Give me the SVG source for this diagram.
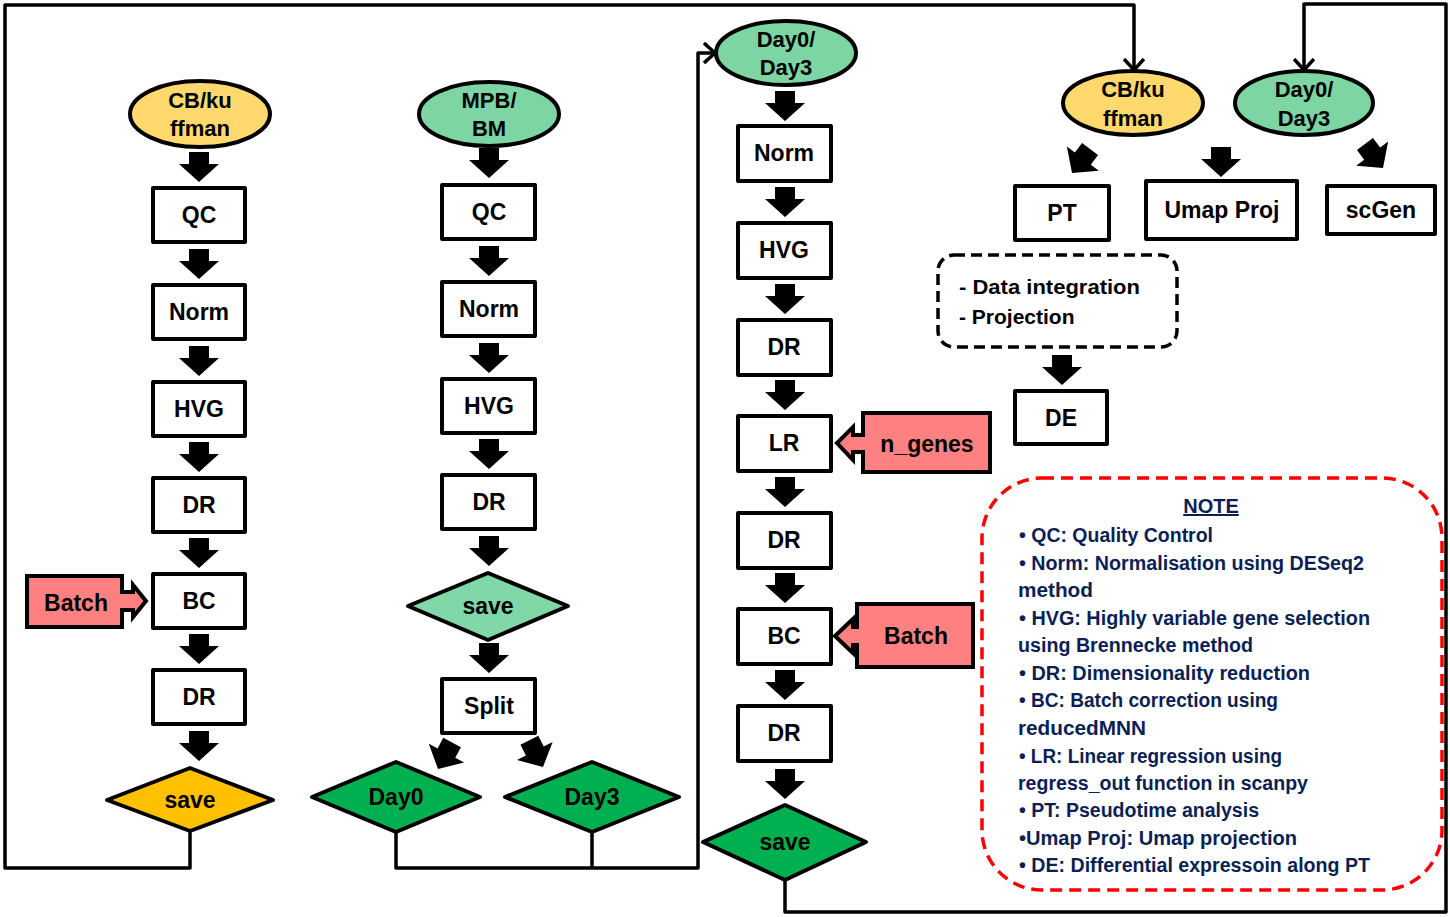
<svg xmlns="http://www.w3.org/2000/svg" xmlns:xlink="http://www.w3.org/1999/xlink" width="1450" height="917" viewBox="0 0 1450 917">
<style>
text{font-family:"Liberation Sans",Arial,sans-serif;font-weight:bold;fill:#000;}
.lbl{font-size:23px;text-anchor:middle;}
.ell{font-size:22px;text-anchor:middle;}
.box{fill:#fff;stroke:#000;stroke-width:4;stroke-linejoin:round;}
.yel{fill:#FFD96E;stroke:#000;stroke-width:4;}
.grn{fill:#7DD5A3;stroke:#000;stroke-width:4;}
.dgrn{fill:#00B050;stroke:#000;stroke-width:4;stroke-linejoin:round;}
.org{fill:#FFC000;stroke:#000;stroke-width:4;stroke-linejoin:round;}
.lgrn{fill:#80D8A8;stroke:#000;stroke-width:4;stroke-linejoin:round;}
.call{fill:#FF8080;stroke:#000;stroke-width:4;stroke-linejoin:miter;}
.conn{fill:none;stroke:#000;stroke-width:3.5;stroke-linejoin:round;}
.note{font-size:20px;fill:#0B1F55;}
</style>
<defs>
<path id="barrow" d="M-10,-30 H10 V-18 H20 L0,0 L-20,-18 H-10 Z" fill="#000"/>
<marker id="open" viewBox="0 0 14 22" markerWidth="14" markerHeight="22" refX="12" refY="11" orient="auto" markerUnits="userSpaceOnUse">
<path d="M1,1 L12,11 L1,21" fill="none" stroke="#000" stroke-width="3.5"/>
</marker>
</defs>
<rect width="1450" height="917" fill="#fff"/>

<g id="connectors">
<path class="conn" d="M190,830 V868 H5 V5 H1134 V70" marker-end="url(#open)"/>
<path class="conn" d="M396,832 V868 H698 V53 H715" marker-end="url(#open)"/>
<path class="conn" d="M592,832 V868"/>
<path class="conn" d="M785,880 V912 H1446 V4 H1304 V70" marker-end="url(#open)"/>
</g>

<g id="block-arrows">
<use xlink:href="#barrow" transform="translate(199,182)"/>
<use xlink:href="#barrow" transform="translate(199,279)"/>
<use xlink:href="#barrow" transform="translate(199,376)"/>
<use xlink:href="#barrow" transform="translate(199,472)"/>
<use xlink:href="#barrow" transform="translate(199,568)"/>
<use xlink:href="#barrow" transform="translate(199,664)"/>
<use xlink:href="#barrow" transform="translate(199,761)"/>
<use xlink:href="#barrow" transform="translate(489,178)"/>
<use xlink:href="#barrow" transform="translate(489,276)"/>
<use xlink:href="#barrow" transform="translate(489,373)"/>
<use xlink:href="#barrow" transform="translate(489,469)"/>
<use xlink:href="#barrow" transform="translate(489,566)"/>
<use xlink:href="#barrow" transform="translate(489,673)"/>
<use xlink:href="#barrow" transform="translate(438,769) rotate(28)"/>
<use xlink:href="#barrow" transform="translate(543,767) rotate(-27)"/>
<use xlink:href="#barrow" transform="translate(785,121)"/>
<use xlink:href="#barrow" transform="translate(785,217)"/>
<use xlink:href="#barrow" transform="translate(785,314)"/>
<use xlink:href="#barrow" transform="translate(785,410)"/>
<use xlink:href="#barrow" transform="translate(785,507)"/>
<use xlink:href="#barrow" transform="translate(785,603)"/>
<use xlink:href="#barrow" transform="translate(785,700)"/>
<use xlink:href="#barrow" transform="translate(785,799)"/>
<use xlink:href="#barrow" transform="translate(1072,173) rotate(37)"/>
<use xlink:href="#barrow" transform="translate(1221,177)"/>
<use xlink:href="#barrow" transform="translate(1383,168) rotate(-37)"/>
<use xlink:href="#barrow" transform="translate(1062,385)"/>
</g>

<!-- Column 1 -->
<g id="c1-start"><ellipse class="yel" cx="200" cy="114" rx="70" ry="33"/><text class="ell" x="200" y="108">CB/ku</text><text class="ell" x="200" y="136">ffman</text></g>
<g id="c1-qc"><rect class="box" x="153" y="188" width="92" height="54"/><text class="lbl" x="199" y="223">QC</text></g>
<g id="c1-norm"><rect class="box" x="153" y="285" width="92" height="54"/><text class="lbl" x="199" y="320">Norm</text></g>
<g id="c1-hvg"><rect class="box" x="153" y="382" width="92" height="54"/><text class="lbl" x="199" y="417">HVG</text></g>
<g id="c1-dr1"><rect class="box" x="153" y="478" width="92" height="54"/><text class="lbl" x="199" y="513">DR</text></g>
<g id="c1-bc"><rect class="box" x="153" y="574" width="92" height="54"/><text class="lbl" x="199" y="609">BC</text></g>
<g id="c1-batch"><path class="call" d="M27,576 H122 V592 H133 V585 L146,601 L133,617 V610 H122 V627 H27 Z"/><text class="lbl" x="76" y="611">Batch</text></g>
<g id="c1-dr2"><rect class="box" x="153" y="670" width="92" height="54"/><text class="lbl" x="199" y="705">DR</text></g>
<g id="c1-save"><path class="org" d="M190,768 L273,800 L190,831 L107,800 Z"/><text class="lbl" x="190" y="808">save</text></g>

<!-- Column 2 -->
<g id="c2-start"><ellipse class="grn" cx="489" cy="114" rx="70" ry="32"/><text class="ell" x="489" y="108">MPB/</text><text class="ell" x="489" y="136">BM</text></g>
<g id="c2-qc"><rect class="box" x="442" y="185" width="93" height="54"/><text class="lbl" x="489" y="220">QC</text></g>
<g id="c2-norm"><rect class="box" x="442" y="282" width="93" height="54"/><text class="lbl" x="489" y="317">Norm</text></g>
<g id="c2-hvg"><rect class="box" x="442" y="379" width="93" height="54"/><text class="lbl" x="489" y="414">HVG</text></g>
<g id="c2-dr"><rect class="box" x="442" y="475" width="93" height="54"/><text class="lbl" x="489" y="510">DR</text></g>
<g id="c2-save"><path class="lgrn" d="M488,573 L568,606 L488,640 L408,606 Z"/><text class="lbl" x="488" y="614">save</text></g>
<g id="c2-split"><rect class="box" x="442" y="679" width="93" height="54"/><text class="lbl" x="489" y="714">Split</text></g>
<g id="c2-day0"><path class="dgrn" d="M396,762 L480,797 L396,832 L312,797 Z"/><text class="lbl" x="396" y="805">Day0</text></g>
<g id="c2-day3"><path class="dgrn" d="M592,762 L679,797 L592,832 L505,797 Z"/><text class="lbl" x="592" y="805">Day3</text></g>

<!-- Column 3 -->
<g id="c3-start"><ellipse class="grn" cx="786" cy="53" rx="70" ry="32"/><text class="ell" x="786" y="47">Day0/</text><text class="ell" x="786" y="75">Day3</text></g>
<g id="c3-norm"><rect class="box" x="738" y="126" width="93" height="55"/><text class="lbl" x="784" y="161">Norm</text></g>
<g id="c3-hvg"><rect class="box" x="738" y="223" width="93" height="55"/><text class="lbl" x="784" y="258">HVG</text></g>
<g id="c3-dr1"><rect class="box" x="738" y="320" width="93" height="55"/><text class="lbl" x="784" y="355">DR</text></g>
<g id="c3-lr"><rect class="box" x="738" y="416" width="93" height="55"/><text class="lbl" x="784" y="451">LR</text></g>
<g id="c3-ngenes"><path class="call" d="M990,413 V472 H863 V452 H853 V460 L837,443 L853,427 V435 H863 V413 Z"/><text class="lbl" x="927" y="452">n_genes</text></g>
<g id="c3-dr2"><rect class="box" x="738" y="513" width="93" height="55"/><text class="lbl" x="784" y="548">DR</text></g>
<g id="c3-bc"><rect class="box" x="738" y="609" width="93" height="55"/><text class="lbl" x="784" y="644">BC</text></g>
<g id="c3-batch"><path class="call" d="M973,604 V667 H857 V645 H853 V653 L835,636 L853,619 V627 H857 V604 Z"/><text class="lbl" x="916" y="644">Batch</text></g>
<g id="c3-dr3"><rect class="box" x="738" y="706" width="93" height="55"/><text class="lbl" x="784" y="741">DR</text></g>
<g id="c3-save"><path class="dgrn" d="M785,805 L866,842 L785,880 L703,842 Z"/><text class="lbl" x="785" y="850">save</text></g>

<!-- Right area -->
<g id="r-cb"><ellipse class="yel" cx="1133" cy="103" rx="70" ry="32"/><text class="ell" x="1133" y="97">CB/ku</text><text class="ell" x="1133" y="126">ffman</text></g>
<g id="r-day"><ellipse class="grn" cx="1304" cy="103" rx="69" ry="32"/><text class="ell" x="1304" y="97">Day0/</text><text class="ell" x="1304" y="126">Day3</text></g>
<g id="r-pt"><rect class="box" x="1015" y="186" width="94" height="54"/><text class="lbl" x="1062" y="221">PT</text></g>
<g id="r-umap"><rect class="box" x="1146" y="181" width="151" height="58"/><text class="lbl" x="1222" y="218">Umap Proj</text></g>
<g id="r-scgen"><rect class="box" x="1327" y="186" width="108" height="48"/><text class="lbl" x="1381" y="218">scGen</text></g>
<g id="r-integration"><rect x="938" y="255" width="239" height="92" rx="16" fill="#fff" stroke="#000" stroke-width="3.5" stroke-dasharray="11,6"/>
<text x="959" y="294" font-size="21" textLength="181" lengthAdjust="spacingAndGlyphs">- Data integration</text><text x="959" y="324" font-size="21">- Projection</text></g>
<g id="r-de"><rect class="box" x="1015" y="391" width="92" height="53"/><text class="lbl" x="1061" y="426">DE</text></g>

<g id="note">
<rect x="982" y="478" width="460" height="412" rx="60" fill="#fff" stroke="#FF0000" stroke-width="3.5" stroke-dasharray="12,7"/>
<text class="note" x="1211" y="513" text-anchor="middle" text-decoration="underline">NOTE</text>
<text class="note" x="1019" y="542" textLength="194" lengthAdjust="spacingAndGlyphs">• QC: Quality Control</text>
<text class="note" x="1019" y="570" textLength="345" lengthAdjust="spacingAndGlyphs">• Norm: Normalisation using DESeq2</text>
<text class="note" x="1018" y="597" textLength="75" lengthAdjust="spacingAndGlyphs">method</text>
<text class="note" x="1019" y="625" textLength="351" lengthAdjust="spacingAndGlyphs">• HVG: Highly variable gene selection</text>
<text class="note" x="1018" y="652" textLength="235" lengthAdjust="spacingAndGlyphs">using Brennecke method</text>
<text class="note" x="1019" y="680" textLength="291" lengthAdjust="spacingAndGlyphs">• DR: Dimensionality reduction</text>
<text class="note" x="1019" y="707" textLength="259" lengthAdjust="spacingAndGlyphs">• BC: Batch correction using</text>
<text class="note" x="1018" y="735" textLength="128" lengthAdjust="spacingAndGlyphs">reducedMNN</text>
<text class="note" x="1019" y="763" textLength="263" lengthAdjust="spacingAndGlyphs">• LR: Linear regression using</text>
<text class="note" x="1018" y="790" textLength="290" lengthAdjust="spacingAndGlyphs">regress_out function in scanpy</text>
<text class="note" x="1019" y="817" textLength="240" lengthAdjust="spacingAndGlyphs">• PT: Pseudotime analysis</text>
<text class="note" x="1019" y="845" textLength="278" lengthAdjust="spacingAndGlyphs">•Umap Proj: Umap projection</text>
<text class="note" x="1019" y="872" textLength="351" lengthAdjust="spacingAndGlyphs">• DE: Differential expressoin along PT</text>
</g>
</svg>
